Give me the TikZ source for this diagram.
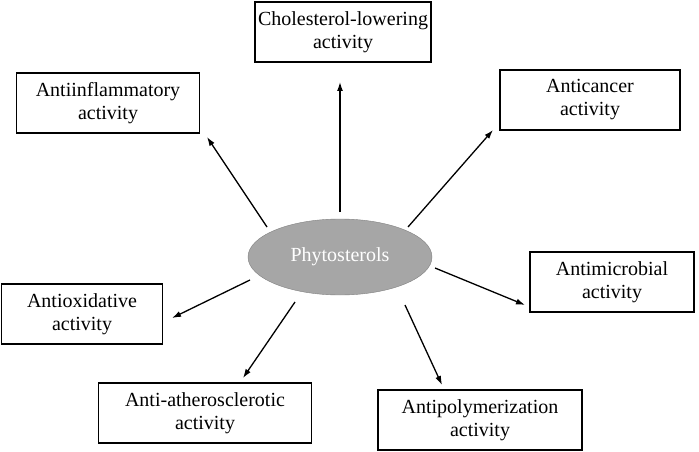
\documentclass[tikz,border=0pt]{standalone}
\usepackage{fontspec}
\setmainfont{Liberation Serif}
\usetikzlibrary{shapes.geometric,arrows.meta}
\begin{document}
\begin{tikzpicture}[x=1pt,y=-1pt,
    act/.style={draw,line width=1.2pt,minimum height=60pt,align=center,inner sep=1pt,font=\fontsize{20}{23}\selectfont},
    arr/.style={-{Latex[length=9pt,width=6pt]},line width=1.3pt}]
            \useasboundingbox (0,0) rectangle (699,452);
            \node[ellipse,fill=gray!70,draw=gray,minimum width=184pt,minimum height=76pt,text=white,
                font=\fontsize{20}{23}\selectfont] (ph) at (340,257) {Phytosterols};
            % activity boxes
            \node[act,minimum width=176pt] (chol) at (343,32) {Cholesterol-lowering\\activity};
            \node[act,minimum width=183pt] (infl) at (108,103) {Antiinflammatory\\activity};
            \node[act,minimum width=180pt] (canc) at (590,100) {Anticancer\\activity};
            \node[act,minimum width=164pt] (micr) at (612,282) {Antimicrobial\\activity};
            \node[act,minimum width=161pt] (oxid) at (82,314) {Antioxidative\\activity};
            \node[act,minimum width=213pt] (athe) at (205,413) {Anti-atherosclerotic\\activity};
            \node[act,minimum width=204pt] (poly) at (480,420) {Antipolymerization\\activity};
            % arrow ends
            \coordinate (e1) at (340,82);
            \coordinate (e2) at (207,137);
            \coordinate (e3) at (493,130);
            \coordinate (e4) at (525,305);
            \coordinate (e5) at (172,318);
            \coordinate (e6) at (243,378);
            \coordinate (e7) at (442,385);
            \coordinate (s1) at (340,212);
            \coordinate (s2) at (267,227);
            \coordinate (s3) at (408,227);
            \coordinate (s4) at (435,268);
            \coordinate (s5) at (250,280);
            \coordinate (s6) at (295,302);
            \coordinate (s7) at (405,305);
            \foreach \i in {1,...,7}
                \draw[arr] (s\i) -- (e\i);
        \end{tikzpicture}
\end{document}
